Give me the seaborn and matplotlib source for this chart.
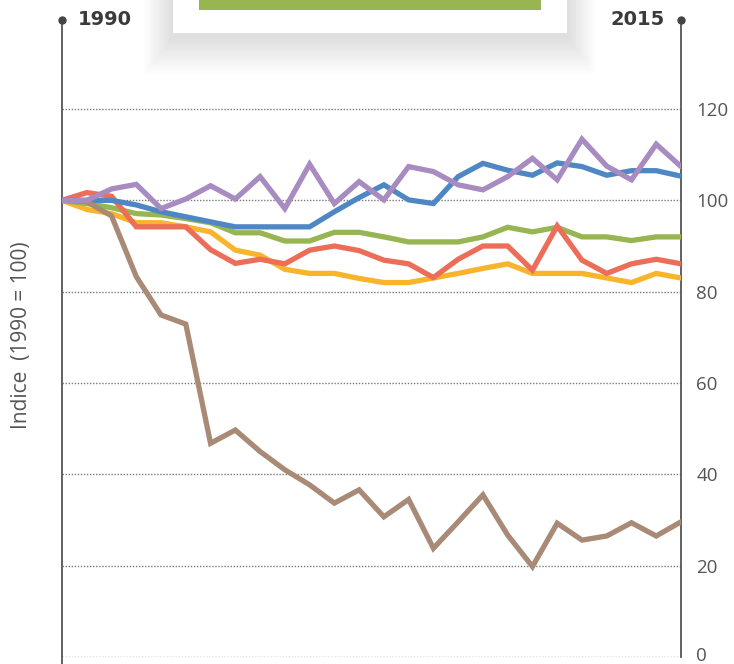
import numpy as np
import pandas as pd
import matplotlib
matplotlib.use("Agg")
import matplotlib.pyplot as plt
import matplotlib.transforms as mtransforms
import seaborn as sns
from matplotlib.patches import Rectangle

years = list(range(1990, 2016))

blue = [100, 100, 100, 99, 97.5, 96.4, 95.3, 94.2, 94.2, 94.2, 94.2, 97.5, 100.6,
        103.4, 100.1, 99.3, 105.2, 108.1, 106.6, 105.5, 108.2, 107.4, 105.5, 106.5, 106.5, 105.3]
purple = [100, 100, 102.5, 103.5, 98.2, 100.3, 103.2, 100.3, 105.2, 98.2, 107.9, 99.3, 104.1,
          100.1, 107.4, 106.3, 103.4, 102.3, 105.2, 109.2, 104.5, 113.4, 107.5, 104.5, 112.3, 107.4]
green = [100, 99.3, 98.4, 97.1, 96.8, 96, 95.1, 92.9, 92.9, 91.1, 91.1, 93, 93,
         92, 90.9, 90.9, 90.9, 92, 94.1, 93.1, 94.1, 92, 92, 91.2, 92, 92]
yellow = [100, 98, 97.1, 95.1, 95.1, 94.2, 93.1, 89.1, 88, 84.9, 84, 84, 82.9,
          82, 82, 83, 84, 85.1, 86.1, 84, 84, 84, 83, 82, 84, 83]
red = [100, 101.7, 100.9, 94.2, 94.2, 94.2, 89.2, 86.2, 87.1, 86.1, 89.1, 90, 89,
       86.9, 86.1, 83.1, 87.1, 90, 90, 84.7, 94.4, 86.9, 84, 86.1, 87.1, 86.1]
brown = [100, 99.7, 96.6, 83.3, 74.9, 72.9, 46.8, 49.7, 45, 41, 37.7, 33.7, 36.6,
         30.7, 34.5, 23.8, 29.6, 35.5, 26.7, 19.8, 29.3, 25.6, 26.5, 29.4, 26.5, 29.6]

series_names = ["S1", "S2", "S3", "S4", "S5", "S6"]
series_values = [yellow, green, red, blue, brown, purple]
colors = ["#F8B42B", "#97B551", "#EC6D58", "#4F87C4", "#A88A76", "#A78BC1"]
y_ticks = [0, 20, 40, 60, 80, 100, 120]

df = pd.DataFrame({
    "year": years * len(series_names),
    "value": sum(series_values, []),
    "series": sum([[n] * len(years) for n in series_names], []),
})

sns.set_theme(style="white")
plt.rcParams["font.family"] = ["DejaVu Sans"]

fig = plt.figure(figsize=(7.34, 6.64), dpi=100)
ax = fig.add_axes([62 / 734, 1 - 657 / 664, (681 - 62) / 734, (657 - 17.7) / 664])

for name, col in zip(series_names, colors):
    sub = df[df["series"] == name]
    sns.lineplot(data=sub, x="year", y="value", color=col, linewidth=3.8,
                 ax=ax, legend=False, solid_joinstyle="miter", zorder=3)

ax.set_xlim(years[0], years[-1])
ax.set_ylim(0, 140)

for t in y_ticks:
    ax.axhline(t, color="#7a7a7a", linewidth=1.0, linestyle=(0, (1, 1.2)), zorder=1)

ax.yaxis.tick_right()
ax.set_yticks(y_ticks)
ax.set_yticklabels([str(t) for t in y_ticks], fontsize=13.5, color="#555555",
                   family=["Open Sans", "DejaVu Sans"])
ax.tick_params(axis="y", length=0, pad=11)
# nudge the bottom label up a little so it stays inside the picture
lab0 = ax.get_yticklabels()[0]
lab0.set_transform(lab0.get_transform() +
                   mtransforms.ScaledTranslation(0, 3 / 100, fig.dpi_scale_trans))
ax.set_xticks([])
ax.set_xlabel("")
ax.set_ylabel("")

for s in ["top", "bottom"]:
    ax.spines[s].set_visible(False)
for s in ["left", "right"]:
    ax.spines[s].set_visible(True)
    ax.spines[s].set_color("#555555")
    ax.spines[s].set_linewidth(1.3)
ax.spines["left"].set_bounds(-3, 139.5)
ax.spines["right"].set_bounds(0, 139.5)

ax.plot([years[0], years[-1]], [139.5, 139.5], "o", color="#444444",
        markersize=5, clip_on=False, zorder=5)

narrow = ["Liberation Sans Narrow", "DejaVu Sans"]
ax.text(years[0] + 0.65, 139.5, str(years[0]), fontsize=14, fontweight="bold",
        color="#3a3a3a", ha="left", va="center", family=narrow)
ax.text(years[-1] - 0.65, 139.5, str(years[-1]), fontsize=14, fontweight="bold",
        color="#3a3a3a", ha="right", va="center", family=narrow)

fig.text(22 / 734, 1 - 335 / 664, "Indice  (1990 = 100)", rotation=90,
         fontsize=15, color="#555555", ha="center", va="center",
         family=["Open Sans", "DejaVu Sans"])

# legend box (cut off at top) with soft shadow
bx0, bx1, by1 = 173 / 734, 567 / 734, 1 - 33 / 664
for k in range(16, 0, -1):
    pad = k * 1.8
    fig.patches.append(Rectangle((bx0 - pad / 734, by1 - (pad * 1.3 + 4) / 664),
                                 (bx1 - bx0) + 2 * pad / 734, 1.2,
                                 transform=fig.transFigure, facecolor="#000000",
                                 alpha=0.007, edgecolor="none", zorder=8))
fig.patches.append(Rectangle((bx0, by1), bx1 - bx0, 1.2, transform=fig.transFigure,
                             facecolor="white", edgecolor="none", zorder=9))
fig.patches.append(Rectangle((199 / 734, 1 - 10 / 664), (541 - 199) / 734, 0.2,
                             transform=fig.transFigure, facecolor="#97B551",
                             edgecolor="none", zorder=10))

fig.savefig("out.png", dpi=100)
